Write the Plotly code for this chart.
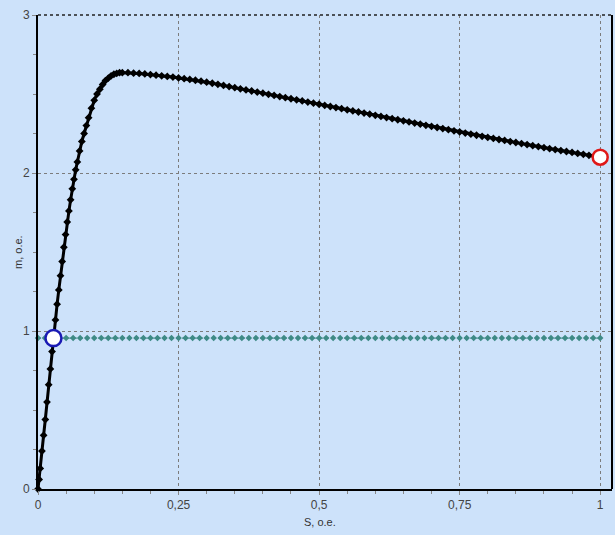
import plotly.graph_objects as go

# Motor torque characteristic m(S)
S_MOTOR = [0, 0.002, 0.004, 0.007, 0.010, 0.013, 0.016, 0.019, 0.022, 0.025, 0.028, 0.031,
           0.034, 0.037, 0.040, 0.043, 0.046, 0.049, 0.052, 0.055, 0.058, 0.061, 0.064, 0.067,
           0.070, 0.074, 0.078, 0.082, 0.086, 0.090, 0.095, 0.100, 0.105, 0.110, 0.115, 0.120,
           0.125, 0.130, 0.135, 0.140, 0.145, 0.150, 0.16, 0.17, 0.18, 0.19,
           0.20, 0.21, 0.22, 0.23, 0.24, 0.25, 0.26, 0.27, 0.28, 0.29,
           0.30, 0.31, 0.32, 0.33, 0.34, 0.35, 0.36, 0.37, 0.38, 0.39,
           0.40, 0.41, 0.42, 0.43, 0.44, 0.45, 0.46, 0.47, 0.48, 0.49,
           0.50, 0.51, 0.52, 0.53, 0.54, 0.55, 0.56, 0.57, 0.58, 0.59,
           0.60, 0.61, 0.62, 0.63, 0.64, 0.65, 0.66, 0.67, 0.68, 0.69,
           0.70, 0.71, 0.72, 0.73, 0.74, 0.75, 0.76, 0.77, 0.78, 0.79,
           0.80, 0.81, 0.82, 0.83, 0.84, 0.85, 0.86, 0.87, 0.88, 0.89,
           0.90, 0.91, 0.92, 0.93, 0.94, 0.95, 0.96, 0.97, 0.98, 0.99, 1.00]
M_MOTOR = [0, 0.06, 0.13, 0.24, 0.34, 0.44, 0.55, 0.66, 0.76, 0.87, 0.97, 1.07,
           1.17, 1.26, 1.35, 1.44, 1.53, 1.61, 1.69, 1.76, 1.83, 1.90, 1.96, 2.02,
           2.07, 2.14, 2.20, 2.25, 2.30, 2.35, 2.41, 2.46, 2.50, 2.53, 2.56, 2.585,
           2.60, 2.615, 2.625, 2.63, 2.635, 2.635, 2.635, 2.632, 2.63, 2.627,
           2.623, 2.619, 2.615, 2.611, 2.607, 2.602, 2.597, 2.592, 2.587, 2.581,
           2.575, 2.568, 2.561, 2.554, 2.547, 2.540, 2.533, 2.526, 2.519, 2.512,
           2.505, 2.498, 2.491, 2.484, 2.477, 2.470, 2.463, 2.456, 2.449, 2.442,
           2.435, 2.428, 2.421, 2.414, 2.407, 2.400, 2.393, 2.386, 2.379, 2.372,
           2.365, 2.358, 2.351, 2.344, 2.337, 2.330, 2.323, 2.316, 2.309, 2.302,
           2.295, 2.288, 2.281, 2.274, 2.267, 2.260, 2.253, 2.246, 2.239, 2.232,
           2.225, 2.219, 2.212, 2.206, 2.199, 2.193, 2.186, 2.180, 2.173, 2.167,
           2.160, 2.154, 2.148, 2.142, 2.136, 2.130, 2.124, 2.118, 2.112, 2.106, 2.100]

# Load torque line Mc(S)
S_LOAD = [0, 0.0125, 0.025, 0.0375, 0.05, 0.0625, 0.075, 0.0875, 0.1, 0.1125, 0.125, 0.1375,
          0.15, 0.1625, 0.175, 0.1875, 0.2, 0.2125, 0.225, 0.2375, 0.25, 0.2625, 0.275, 0.2875,
          0.3, 0.3125, 0.325, 0.3375, 0.35, 0.3625, 0.375, 0.3875, 0.4, 0.4125, 0.425, 0.4375,
          0.45, 0.4625, 0.475, 0.4875, 0.5, 0.5125, 0.525, 0.5375, 0.55, 0.5625, 0.575, 0.5875,
          0.6, 0.6125, 0.625, 0.6375, 0.65, 0.6625, 0.675, 0.6875, 0.7, 0.7125, 0.725, 0.7375,
          0.75, 0.7625, 0.775, 0.7875, 0.8, 0.8125, 0.825, 0.8375, 0.85, 0.8625, 0.875, 0.8875,
          0.9, 0.9125, 0.925, 0.9375, 0.95, 0.9625, 0.975, 0.9875, 1.0]
M_LOAD = [0.955] * len(S_LOAD)

# Operating point and starting point
S_WORK = [0.0275]
M_WORK = [0.955]
S_START = [1.0]
M_START = [2.10]

X_TICKS = [0, 0.25, 0.5, 0.75, 1]
X_TICK_TEXT = ["0", "0,25", "0,5", "0,75", "1"]
Y_TICKS = [0, 1, 2, 3]
Y_TICK_TEXT = ["0", "1", "2", "3"]
X_TITLE = "S, о.е."
Y_TITLE = "m, о.е."

BG = "#cde2fa"
FONT = "Liberation Sans"
GRID_DASH = "3px,3px"

fig = go.Figure()
fig.add_trace(go.Scatter(
    x=S_LOAD, y=M_LOAD, mode="lines+markers",
    line=dict(color="#3e8a86", width=1, dash="dot"),
    marker=dict(symbol="diamond", size=5, color="#3e8a86"),
    hoverinfo="skip", showlegend=False, cliponaxis=False))
fig.add_trace(go.Scatter(
    x=S_MOTOR, y=M_MOTOR, mode="lines+markers",
    line=dict(color="black", width=3),
    marker=dict(symbol="diamond", size=6, color="black"),
    hoverinfo="skip", showlegend=False, cliponaxis=False))
fig.add_trace(go.Scatter(
    x=S_WORK, y=M_WORK, mode="markers",
    marker=dict(symbol="circle", size=16, color="white",
                line=dict(color="#1a1ab4", width=2.5)),
    hoverinfo="skip", showlegend=False, cliponaxis=False))
fig.add_trace(go.Scatter(
    x=S_START, y=M_START, mode="markers",
    marker=dict(symbol="circle", size=15, color="white",
                line=dict(color="#e01818", width=2.5)),
    hoverinfo="skip", showlegend=False, cliponaxis=False))

XMAX = 1.021

fig.update_layout(
    width=615, height=535,
    margin=dict(l=38, r=3, t=15, b=46),
    paper_bgcolor=BG, plot_bgcolor=BG,
    font=dict(family=FONT, size=12, color="#444"),
    xaxis=dict(
        range=[0, XMAX], tickvals=X_TICKS, ticktext=X_TICK_TEXT, automargin=False,
        showgrid=True, gridcolor="#7c7c7c", griddash=GRID_DASH, gridwidth=1,
        zeroline=False, showline=True, linecolor="black", linewidth=2,
        ticks="outside", ticklen=4, tickcolor="#888",
        minor=dict(dtick=0.05, ticks="outside", ticklen=3, tickcolor="#888", showgrid=False),
        tickfont=dict(size=12, color="#444"),
    ),
    yaxis=dict(
        range=[0, 3], tickvals=Y_TICKS, ticktext=Y_TICK_TEXT, automargin=False,
        showgrid=True, gridcolor="#7c7c7c", griddash=GRID_DASH, gridwidth=1,
        zeroline=False, showline=True, linecolor="black", linewidth=2,
        ticks="outside", ticklen=4, tickcolor="#888",
        minor=dict(dtick=0.25, ticks="outside", ticklen=3, tickcolor="#888", showgrid=False),
        tickfont=dict(size=12, color="#444"),
    ),
    annotations=[
        dict(text=X_TITLE, xref="paper", yref="paper", x=0.492, y=0, yshift=-33,
             xanchor="center", yanchor="middle", showarrow=False,
             font=dict(size=11, color="#333")),
        dict(text=Y_TITLE, xref="paper", yref="paper", x=0, y=0.5, xshift=-20,
             xanchor="center", yanchor="middle", showarrow=False, textangle=-90,
             font=dict(size=11, color="#333")),
    ],
    shapes=[
        dict(type="line", xref="paper", yref="paper", x0=0, x1=1, y0=1, y1=1,
             line=dict(color="#222", width=1.5, dash=GRID_DASH), layer="above"),
        dict(type="line", xref="paper", yref="paper", x0=1, x1=1, y0=0, y1=1,
             line=dict(color="black", width=2), layer="above"),
    ],
)

fig.write_html(
    "out.html",
    config={"displayModeBar": False},
    post_script="document.body.style.margin='0';document.body.style.background='%s';" % BG,
)
